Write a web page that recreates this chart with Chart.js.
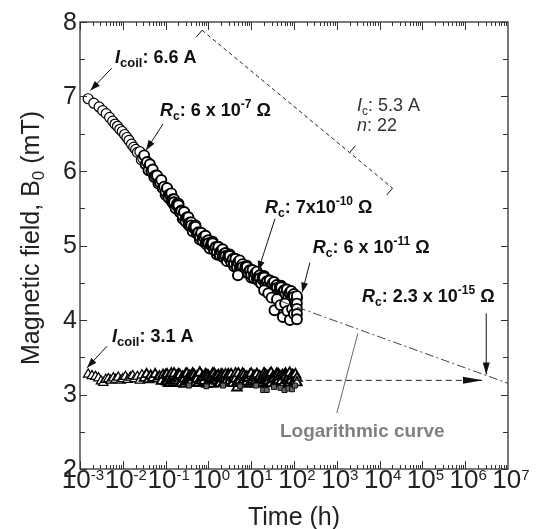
<!DOCTYPE html>
<html>
<head>
<meta charset="utf-8">
<script src="https://cdn.jsdelivr.net/npm/chart.js@4/dist/chart.umd.min.js"></script>
<style>
  html, body { margin: 0; padding: 0; background: #fff; }
</style>
</head>
<body>
<canvas id="chart" width="537" height="529"></canvas>
<script>
// sample times (h) of the dense part of both runs
const denseTime = [
  0.1, 0.108, 0.117, 0.126, 0.136, 0.147, 0.158, 0.171, 0.185, 0.2,
  0.215, 0.233, 0.251, 0.271, 0.293, 0.316, 0.341, 0.369, 0.398, 0.43,
  0.464, 0.501, 0.541, 0.584, 0.631, 0.681, 0.736, 0.794, 0.858, 0.926,
  1, 1.08, 1.17, 1.26, 1.36, 1.47, 1.58, 1.71, 1.85, 2,
  2.15, 2.33, 2.51, 2.71, 2.93, 3.16, 3.41, 3.69, 3.98, 4.3,
  4.64, 5.01, 5.41, 5.84, 6.31, 6.81, 7.36, 7.94, 8.58, 9.26,
  10, 10.8, 11.7, 12.6, 13.6, 14.7, 15.8, 17.1, 18.5, 20,
  21.5, 23.3, 25.1, 27.1, 29.3, 31.6, 34.1, 36.9, 39.8, 43,
  46.4, 50.1, 54.1, 58.4, 63.1, 68.1, 73.6, 79.4, 85.8, 92.6,
  100, 108, 117
];

// I_coil = 6.6 A (circles)
const circleEarlyTime = [
  0.00155, 0.0021, 0.0028, 0.0034, 0.0041, 0.0049, 0.0058, 0.0066, 0.0075, 0.0085,
  0.0097, 0.011, 0.0125, 0.014, 0.016, 0.018, 0.020, 0.022,
  0.0251, 0.0271, 0.0293, 0.0316, 0.0341, 0.0369, 0.0398, 0.043, 0.0464, 0.0501,
  0.0541, 0.0584, 0.0631, 0.0681, 0.0736, 0.0794, 0.0858, 0.0926
];
const circleEarlyField = [
  6.97, 6.91, 6.86, 6.81, 6.77, 6.72, 6.67, 6.63, 6.60, 6.56,
  6.53, 6.49, 6.45, 6.41, 6.36, 6.32, 6.29, 6.25,
  6.26, 6.15, 6.17, 6.21, 6.09, 6.12, 6.01, 6.09, 6.00, 6.02,
  5.92, 5.94, 5.94, 5.83, 5.85, 5.88, 5.77, 5.79
];
const circleDenseField = [
  5.68, 5.77, 5.68, 5.69, 5.60, 5.62, 5.62, 5.51, 5.53, 5.56,
  5.45, 5.47, 5.36, 5.45, 5.36, 5.38, 5.28, 5.31, 5.31, 5.20,
  5.23, 5.27, 5.16, 5.18, 5.08, 5.17, 5.10, 5.12, 5.03, 5.06,
  5.07, 4.97, 5.00, 5.05, 4.94, 4.98, 4.88, 4.98, 4.91, 4.93,
  4.85, 4.89, 4.90, 4.80, 4.84, 4.88, 4.78, 4.82, 4.72, 4.82,
  4.75, 4.78, 4.70, 4.73, 4.75, 4.65, 4.69, 4.73, 4.63, 4.67,
  4.57, 4.67, 4.60, 4.63, 4.55, 4.58, 4.60, 4.50, 4.54, 4.59,
  4.49, 4.52, 4.43, 4.53, 4.46, 4.49, 4.41, 4.45, 4.47, 4.37,
  4.41, 4.46, 4.36, 4.40, 4.31, 4.41, 4.34, 4.37, 4.29, 4.33,
  4.35, 4.25, 4.29
];
const circleDenseField2 = [
  5.72, 5.77, 5.64, 5.68, 5.70, 5.57, 5.58, 5.50, 5.56, 5.54,
  5.45, 5.46, 5.40, 5.45, 5.32, 5.37, 5.38, 5.26, 5.27, 5.19,
  5.26, 5.25, 5.16, 5.17, 5.12, 5.17, 5.06, 5.11, 5.13, 5.01,
  5.03, 4.96, 5.03, 5.03, 4.94, 4.97, 4.92, 4.98, 4.87, 4.92,
  4.95, 4.84, 4.86, 4.79, 4.87, 4.86, 4.78, 4.81, 4.76, 4.82,
  4.71, 4.77, 4.80, 4.68, 4.71, 4.64, 4.72, 4.71, 4.63, 4.66,
  4.61, 4.67, 4.56, 4.62, 4.65, 4.53, 4.56, 4.49, 4.57, 4.57,
  4.49, 4.51, 4.47, 4.53, 4.42, 4.48, 4.51, 4.40, 4.43, 4.36,
  4.44, 4.44, 4.36, 4.39, 4.35, 4.41, 4.30, 4.36, 4.39, 4.28,
  4.31, 4.24, 4.32
];
const circleExtraTime = [4.9, 20, 25, 30, 35, 40, 48, 55, 62, 70, 80, 90, 100, 110, 117, 117, 117, 117];
const circleExtraField = [4.60, 4.40, 4.36, 4.30, 4.13, 4.28, 4.20, 4.04, 4.22, 4.12, 4.00, 4.15, 4.08, 4.20, 4.22, 4.15, 4.08, 4.01];

// I_coil = 3.1 A (triangles)
const triangleEarlyTime = [
  0.00155, 0.0019, 0.0023, 0.0027, 0.0031, 0.0035, 0.004, 0.0046, 0.0052, 0.006,
  0.0068, 0.0078, 0.009, 0.01, 0.0115, 0.013, 0.015, 0.017, 0.019, 0.022,
  0.025, 0.028, 0.032, 0.036, 0.04, 0.045, 0.05, 0.057, 0.064, 0.072,
  0.08, 0.087
];
const triangleEarlyField = [
  3.27, 3.25, 3.24, 3.22, 3.18, 3.16, 3.20, 3.21, 3.19, 3.22,
  3.20, 3.23, 3.19, 3.21, 3.24, 3.20, 3.23, 3.25, 3.21, 3.24,
  3.19, 3.26, 3.22, 3.27, 3.20, 3.25, 3.22, 3.27, 3.21, 3.24,
  3.18, 3.26
];
const triangleDenseField = [
  3.26, 3.17, 3.23, 3.15, 3.28, 3.19, 3.24, 3.16, 3.22, 3.27,
  3.25, 3.18, 3.22, 3.14, 3.27, 3.20, 3.23, 3.17, 3.21, 3.28,
  3.26, 3.16, 3.24, 3.15, 3.29, 3.19, 3.22, 3.17, 3.23, 3.26,
  3.25, 3.18, 3.21, 3.14, 3.28, 3.20, 3.24, 3.15, 3.22, 3.27,
  3.26, 3.17, 3.23, 3.16, 3.27, 3.19, 3.25, 3.16, 3.21, 3.28,
  3.09, 3.18, 3.22, 3.15, 3.28, 3.20, 3.23, 3.17, 3.22, 3.26,
  3.25, 3.17, 3.23, 3.14, 3.27, 3.19, 3.24, 3.16, 3.21, 3.28,
  3.26, 3.18, 3.22, 3.15, 3.29, 3.20, 3.23, 3.16, 3.22, 3.27,
  3.25, 3.17, 3.24, 3.15, 3.28, 3.19, 3.22, 3.16, 3.23, 3.26,
  3.25, 3.18, 3.22
];
const triangleDenseField2 = [
  3.18, 3.27, 3.15, 3.24, 3.21, 3.16, 3.28, 3.19, 3.25, 3.18,
  3.26, 3.15, 3.24, 3.21, 3.17, 3.28, 3.19, 3.25, 3.17, 3.27,
  3.15, 3.23, 3.21, 3.16, 3.29, 3.19, 3.24, 3.18, 3.27, 3.14,
  3.24, 3.22, 3.16, 3.28, 3.20, 3.25, 3.18, 3.26, 3.15, 3.24,
  3.21, 3.16, 3.27, 3.19, 3.25, 3.18, 3.27, 3.15, 3.23, 3.21,
  3.16, 3.28, 3.19, 3.24, 3.17, 3.26, 3.14, 3.24, 3.22, 3.15,
  3.28, 3.20, 3.25, 3.18, 3.27, 3.15, 3.24, 3.21, 3.16, 3.28,
  3.19, 3.25, 3.18, 3.27, 3.15, 3.23, 3.21, 3.16, 3.28, 3.19,
  3.24, 3.18, 3.26, 3.15, 3.24, 3.21, 3.16, 3.29, 3.19, 3.25,
  3.18, 3.27, 3.16
];

// squares along the bottom of the 3.1 A band
const squareTime = [0.35, 0.9, 2.2, 5.5, 13, 19, 23, 34, 48, 60, 74, 90, 105];
const squareField = [3.12, 3.11, 3.12, 3.11, 3.12, 3.06, 3.06, 3.10, 3.09, 3.06, 3.08, 3.07, 3.12];

// logarithmic extrapolation, dashed arrow, Ic/n line
const logCurveTime = [50, 1e7];
const logCurveField = [4.25, 3.15];
const arrowTime = [110, 2.6e6];
const arrowField = [3.19, 3.19];
const icLineTime = [0.71, 2.0e4];
const icLineField = [7.89, 5.77];

const yTicks = [2, 3, 4, 5, 6, 7, 8];
const xTickPowers = [-3, -2, -1, 0, 1, 2, 3, 4, 5, 6, 7];

const FONT = '"Liberation Sans", Arial, sans-serif';

function zip(xs, ys) {
  return xs.map((x, i) => ({ x: x, y: ys[i] }));
}

// two readings per sample time, alternated so neither row sits on top
function interleave(xs, ys1, ys2) {
  const out = [];
  xs.forEach((x, i) => {
    out.push({ x: x, y: ys1[i] });
    out.push({ x: x, y: ys2[i] });
  });
  return out;
}

function setFont(ctx, p) {
  ctx.font = (p.i ? 'italic ' : '') + (p.b ? 'bold ' : '') + p.s + 'px ' + FONT;
}

function richWidth(ctx, parts) {
  let w = 0;
  parts.forEach(p => { setFont(ctx, p); w += ctx.measureText(p.t).width; });
  return w;
}

function drawRich(ctx, x, y, parts) {
  let cx = x;
  parts.forEach(p => {
    setFont(ctx, p);
    ctx.fillText(p.t, cx, y + (p.dy || 0));
    cx += ctx.measureText(p.t).width;
  });
}

function rcLabel(before, exp) {
  return [
    { t: 'R', s: 18, b: 1, i: 1 },
    { t: 'c', s: 12, b: 1, dy: 4 },
    { t: before, s: 18, b: 1 },
    { t: exp, s: 12, b: 1, dy: -8 },
    { t: ' \u03A9', s: 18, b: 1 }
  ];
}

function coilLabel(amps) {
  return [
    { t: 'I', s: 18, b: 1, i: 1 },
    { t: 'coil', s: 13, b: 1, dy: 4 },
    { t: ': ' + amps, s: 18, b: 1 }
  ];
}

function arrow(ctx, x1, y1, x2, y2, len, half) {
  ctx.beginPath();
  ctx.moveTo(x1, y1);
  ctx.lineTo(x2, y2);
  ctx.stroke();
  const a = Math.atan2(y2 - y1, x2 - x1);
  ctx.beginPath();
  ctx.moveTo(x2, y2);
  ctx.lineTo(x2 - len * Math.cos(a) + half * Math.sin(a), y2 - len * Math.sin(a) - half * Math.cos(a));
  ctx.lineTo(x2 - len * Math.cos(a) - half * Math.sin(a), y2 - len * Math.sin(a) + half * Math.cos(a));
  ctx.closePath();
  ctx.fill();
}

// heavier outline where the measurements pile up
function denseWidth(c) {
  return c.raw && c.raw.x >= 0.03 ? 1.9 : 1.2;
}

const decorations = {
  id: 'decorations',
  afterDraw(chart) {
    const ctx = chart.ctx;
    const xs = chart.scales.x, ys = chart.scales.y;
    const a = chart.chartArea;
    const X = v => xs.getPixelForValue(v);
    const Y = v => ys.getPixelForValue(v);
    ctx.save();

    // frame
    ctx.strokeStyle = '#333';
    ctx.lineWidth = 1.3;
    ctx.strokeRect(a.left, a.top, a.right - a.left, a.bottom - a.top);

    // log ticks top and bottom
    ctx.lineWidth = 1;
    ctx.beginPath();
    for (let d = -3; d < 7; d++) {
      for (let m = 1; m <= 9; m++) {
        const px = Math.round(X(m * Math.pow(10, d))) + 0.5;
        const len = m === 1 ? 8 : 4;
        ctx.moveTo(px, a.bottom); ctx.lineTo(px, a.bottom - len);
        ctx.moveTo(px, a.top); ctx.lineTo(px, a.top + len);
      }
    }
    // y ticks left and right
    for (let v = 2; v <= 8; v += 0.5) {
      const py = Math.round(Y(v)) + 0.5;
      const len = Number.isInteger(v) ? 7 : 5;
      ctx.moveTo(a.left, py); ctx.lineTo(a.left + len, py);
      ctx.moveTo(a.right, py); ctx.lineTo(a.right - len, py);
    }
    ctx.stroke();

    // y tick labels
    ctx.fillStyle = '#222';
    ctx.textAlign = 'right';
    ctx.textBaseline = 'middle';
    ctx.font = '25px ' + FONT;
    yTicks.forEach(v => ctx.fillText(String(v), a.left - 3, Y(v) + 1));

    // x tick labels 10^n
    ctx.textAlign = 'left';
    ctx.textBaseline = 'alphabetic';
    xTickPowers.forEach(p => {
      const parts = [{ t: '10', s: 26 }, { t: String(p), s: 15, dy: -8 }];
      const w = richWidth(ctx, parts);
      drawRich(ctx, X(Math.pow(10, p)) - w / 2 + 3, a.bottom + 19, parts);
    });

    // axis titles
    ctx.font = '25px ' + FONT;
    const tw = ctx.measureText('Time (h)').width;
    ctx.fillText('Time (h)', (a.left + a.right) / 2 - tw / 2, 525);

    ctx.save();
    ctx.translate(39, 238);
    ctx.rotate(-Math.PI / 2);
    const yParts = [{ t: 'Magnetic field, B', s: 25 }, { t: '0', s: 17, dy: 5 }, { t: ' (mT)', s: 25 }];
    drawRich(ctx, -richWidth(ctx, yParts) / 2, 0, yParts);
    ctx.restore();

    // annotations
    ctx.fillStyle = '#111';
    ctx.strokeStyle = '#111';
    ctx.lineWidth = 1;
    drawRich(ctx, X(0.0066), Y(7.45), coilLabel('6.6 A'));
    arrow(ctx, X(0.0055), Y(7.38), X(0.00175), Y(7.08), 10, 3.5);

    drawRich(ctx, X(0.074), Y(6.74), rcLabel(': 6 x 10', '-7'));
    arrow(ctx, X(0.087), Y(6.63), X(0.035), Y(6.28), 10, 3.5);

    drawRich(ctx, X(21), Y(5.44), rcLabel(': 7x10', '-10'));
    arrow(ctx, X(36), Y(5.36), X(14.5), Y(4.66), 10, 3.5);

    drawRich(ctx, X(275), Y(4.90), rcLabel(': 6 x 10', '-11'));
    arrow(ctx, X(235), Y(4.77), X(155), Y(4.37), 10, 3.5);

    drawRich(ctx, X(3900), Y(4.24), rcLabel(': 2.3 x 10', '-15'));
    arrow(ctx, X(3.1e6), Y(4.09), X(3.1e6), Y(3.27), 12, 3.5);

    drawRich(ctx, X(0.0056), Y(3.70), coilLabel('3.1 A'));
    arrow(ctx, X(0.0043), Y(3.65), X(0.00146), Y(3.36), 10, 3.5);

    // head of the dashed horizontal arrow
    ctx.beginPath();
    const hx = X(arrowTime[1]), hy = Y(arrowField[1]);
    ctx.moveTo(hx, hy);
    ctx.lineTo(hx - 20, hy - 3.5);
    ctx.lineTo(hx - 20, hy + 3.5);
    ctx.closePath();
    ctx.fill();

    // bracket ticks on the Ic/n line
    const x1 = X(icLineTime[0]), y1 = Y(icLineField[0]);
    const x2 = X(icLineTime[1]), y2 = Y(icLineField[1]);
    const L = Math.hypot(x2 - x1, y2 - y1);
    const ux = (x2 - x1) / L, uy = (y2 - y1) / L;
    const nx = -uy, ny = ux;
    ctx.beginPath();
    ctx.moveTo(x1, y1); ctx.lineTo(x1 + nx * 9, y1 + ny * 9);
    ctx.moveTo(x2, y2); ctx.lineTo(x2 + nx * 9, y2 + ny * 9);
    const mx = x1 + (x2 - x1) * 0.775, my = y1 + (y2 - y1) * 0.775;
    ctx.moveTo(mx, my); ctx.lineTo(mx - nx * 9, my - ny * 9);
    ctx.stroke();

    ctx.fillStyle = '#333';
    drawRich(ctx, X(2950), Y(6.81), [{ t: 'I', s: 18, i: 1 }, { t: 'c', s: 12, dy: 4 }, { t: ': 5.3 A', s: 18 }]);
    drawRich(ctx, X(2950), Y(6.54), [{ t: 'n', s: 18, i: 1 }, { t: ': 22', s: 18 }]);

    // logarithmic curve label + leader
    ctx.fillStyle = '#808080';
    ctx.strokeStyle = '#666';
    drawRich(ctx, X(47), Y(2.43), [{ t: 'Logarithmic curve', s: 19, b: 1 }]);
    ctx.beginPath();
    ctx.moveTo(X(1000), Y(2.75));
    ctx.lineTo(X(3100), Y(3.82));
    ctx.stroke();

    ctx.restore();
  }
};

const circleData = zip(circleEarlyTime, circleEarlyField)
  .concat(interleave(denseTime, circleDenseField, circleDenseField2))
  .concat(zip(circleExtraTime, circleExtraField));
const triangleData = zip(triangleEarlyTime, triangleEarlyField)
  .concat(interleave(denseTime, triangleDenseField, triangleDenseField2));

new Chart(document.getElementById('chart'), {
  type: 'scatter',
  data: {
    datasets: [
      {
        type: 'line', data: zip(logCurveTime, logCurveField),
        borderColor: '#444', borderWidth: 1, borderDash: [9, 3, 2, 3], pointRadius: 0, fill: false
      },
      {
        type: 'line', data: zip(arrowTime, arrowField),
        borderColor: '#222', borderWidth: 1, borderDash: [6, 4], pointRadius: 0, fill: false
      },
      {
        type: 'line', data: zip(icLineTime, icLineField),
        borderColor: '#222', borderWidth: 1, borderDash: [4, 3], pointRadius: 0, fill: false
      },
      {
        data: circleData, pointStyle: 'circle', pointRadius: 5,
        backgroundColor: '#fff', borderColor: '#000', borderWidth: denseWidth
      },
      {
        data: zip(squareTime, squareField), pointStyle: 'rect', pointRadius: 3.5,
        backgroundColor: '#666', borderColor: '#111', borderWidth: 1
      },
      {
        data: triangleData, pointStyle: 'triangle', pointRadius: 5.5,
        backgroundColor: '#fff', borderColor: '#000', borderWidth: denseWidth
      }
    ]
  },
  options: {
    responsive: false,
    animation: false,
    devicePixelRatio: 1,
    events: [],
    layout: { padding: { left: 80, right: 29, top: 22, bottom: 60 } },
    plugins: { legend: { display: false }, tooltip: { enabled: false } },
    scales: {
      x: { type: 'logarithmic', min: 1e-3, max: 1e7, display: false },
      y: { min: 2, max: 8, display: false }
    }
  },
  plugins: [decorations]
});
</script>
</body>
</html>
